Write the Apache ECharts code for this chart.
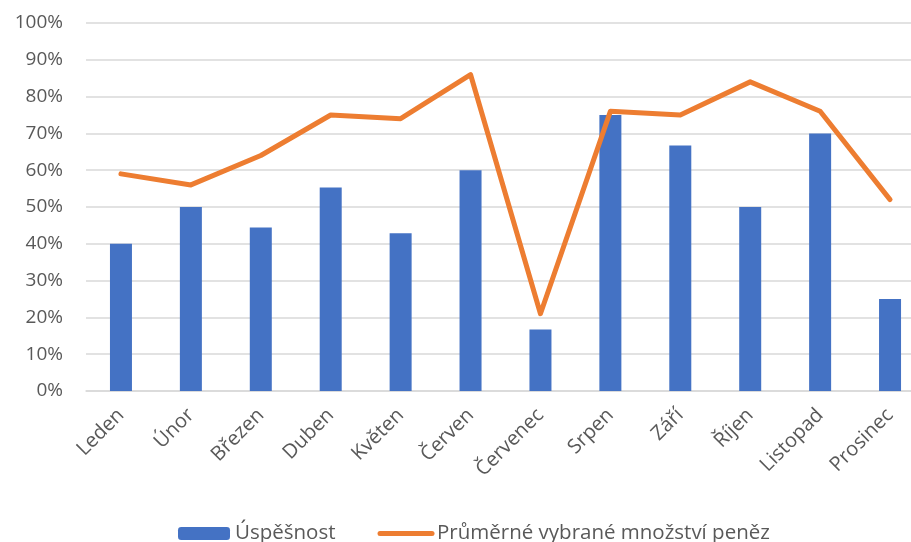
<!DOCTYPE html>
<html>
<head>
<meta charset="utf-8">
<script src="https://cdn.jsdelivr.net/npm/echarts@6/dist/echarts.min.js"></script>
<style>
  html, body { margin: 0; padding: 0; background: #fff; overflow: hidden; }
  #chart { width: 925px; height: 542px; }
</style>
</head>
<body>
<div id="chart"></div>
<script>
const months = ['Leden', 'Únor', 'Březen', 'Duben', 'Květen', 'Červen', 'Červenec', 'Srpen', 'Září', 'Říjen', 'Listopad', 'Prosinec']
const successRate = [0.40, 0.50, 0.444, 0.553, 0.429, 0.60, 0.167, 0.75, 0.667, 0.50, 0.70, 0.25]
const avgMoney = [0.59, 0.56, 0.64, 0.75, 0.74, 0.86, 0.21, 0.76, 0.75, 0.84, 0.76, 0.52]

const FONT = 'Open Sans'
const TEXT = '#595959'
const GRID_LINE = '#d9d9d9'
const ORANGE = '#ED7D31'

// plot area runs a bit past the right edge of the window, as in the reference
const chart = echarts.init(document.getElementById('chart'))

chart.setOption({
  animation: false,
  textStyle: { fontFamily: FONT },
  grid: { left: 86, top: 23, right: 0, height: 368 },
  xAxis: {
    type: 'category', data: months,
    axisLine: { lineStyle: { color: GRID_LINE, width: 1.5 } },
    axisTick: { show: false },
    axisLabel: { rotate: 45, interval: 0, margin: 21, color: TEXT, fontSize: 20, fontFamily: FONT }
  },
  yAxis: {
    type: 'value', min: 0, max: 1, interval: 0.1,
    axisLine: { show: false }, axisTick: { show: false },
    splitLine: { lineStyle: { color: GRID_LINE, width: 1.5 } },
    axisLabel: {
      color: TEXT, fontSize: 19, fontFamily: FONT, margin: 23,
      formatter: v => Math.round(v * 100) + '%'
    }
  },
  legend: {
    top: 518, left: 173,
    itemWidth: 52, itemHeight: 13, itemGap: 42,
    textStyle: { color: TEXT, fontSize: 20.5, fontFamily: FONT },
    lineStyle: { width: 5 },
    data: [
      { name: 'Úspěšnost' },
      { name: 'Průměrné vybrané množství peněz', itemStyle: { opacity: 0 } }
    ]
  },
  series: [
    {
      name: 'Úspěšnost', type: 'bar', data: successRate,
      barWidth: 22, itemStyle: { color: '#4472C4' }
    },
    {
      name: 'Průměrné vybrané množství peněz', type: 'line', data: avgMoney,
      symbol: 'none', lineStyle: { color: ORANGE, width: 5, join: 'round', cap: 'round' },
      itemStyle: { color: ORANGE }
    }
  ]
})
</script>
</body>
</html>
